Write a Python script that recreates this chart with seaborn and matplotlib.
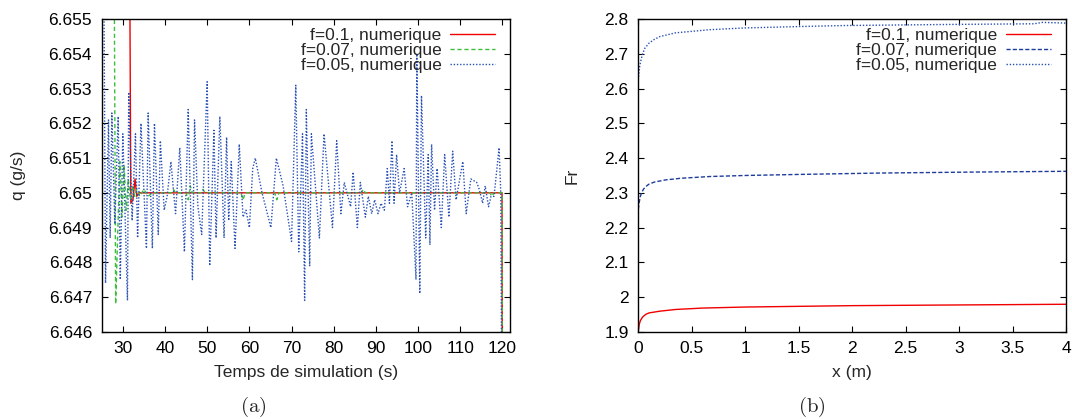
import numpy as np
import matplotlib
matplotlib.use('Agg')
import matplotlib.pyplot as plt
import seaborn as sns

# --- data ---
# (a) debit q (g/s) vs temps de simulation (s)
t_f01 = [31.5, 31.9, 32.4, 32.9, 33.3, 33.8, 119.9, 120.0]
q_f01 = [6.6600, 6.6497, 6.6498, 6.6504, 6.6499, 6.6500, 6.6500, 6.6400]

t_f007 = [27.9, 28.3, 29.3, 29.8, 30.3, 30.8, 31.3, 31.8, 32.3, 32.8, 33.3, 34.0,
          35.0, 36.0, 37.0, 41.5, 42.0, 42.5, 45.0, 45.5, 46.0, 46.5, 48.5, 49.0,
          49.5, 58.0, 58.5, 59.0, 66.0, 66.5, 67.0, 86.5, 87.0, 87.5, 117.0, 117.5,
          118.0, 119.9, 120.0]
q_f007 = [6.6580, 6.6468, 6.6509, 6.6493, 6.6508, 6.6495, 6.6504, 6.6498, 6.6502, 6.6499, 6.6501, 6.6499,
          6.6501, 6.6499, 6.6500, 6.6500, 6.6501, 6.6500, 6.6500, 6.6498, 6.6502, 6.6500, 6.6500, 6.6501,
          6.6500, 6.6500, 6.6498, 6.6500, 6.6500, 6.6498, 6.6500, 6.6500, 6.6501, 6.6500, 6.6500, 6.6499,
          6.6500, 6.6500, 6.6400]

t_f005 = [25.5, 25.9, 26.6, 27.0, 27.4, 28.1, 28.9, 29.4, 30.0, 31.1, 31.4, 32.2,
          33.0, 33.5, 34.3, 35.6, 36.0, 37.0, 37.5, 38.4, 38.9, 39.8, 40.5, 41.4,
          42.5, 43.5, 44.6, 45.5, 46.5, 47.0, 47.8, 48.7, 50.0, 50.6, 51.6, 52.1,
          53.0, 54.0, 54.6, 55.1, 55.7, 56.6, 57.6, 58.5, 59.2, 60.0, 60.8, 61.4,
          63.0, 65.1, 66.4, 68.0, 70.0, 71.0, 71.7, 72.6, 73.1, 73.5, 74.3, 74.7,
          76.6, 77.7, 79.7, 80.7, 81.7, 82.5, 84.0, 84.6, 85.6, 86.3, 87.5, 88.2,
          89.0, 89.7, 90.5, 91.2, 92.0, 92.7, 93.2, 93.8, 94.3, 94.9, 95.6, 96.7,
          97.5, 98.5, 99.5, 99.7, 100.4, 100.8, 101.8, 102.4, 102.8, 103.2, 103.9, 104.5,
          105.5, 106.3, 107.3, 108.2, 109.0, 110.6, 111.4, 112.5, 113.9, 114.5, 115.3, 115.9,
          116.7, 117.3, 118.0, 119.2, 119.6, 120.0]
q_f005 = [6.6562, 6.6474, 6.6521, 6.6487, 6.6523, 6.6491, 6.6522, 6.6475, 6.6517, 6.6469, 6.6529, 6.6492,
          6.6517, 6.6487, 6.6520, 6.6484, 6.6523, 6.6484, 6.6520, 6.6488, 6.6515, 6.6495, 6.6499, 6.6509,
          6.6494, 6.6513, 6.6483, 6.6524, 6.6475, 6.6521, 6.6496, 6.6488, 6.6532, 6.6479, 6.6518, 6.6487,
          6.6522, 6.6487, 6.6516, 6.6492, 6.6509, 6.6484, 6.6514, 6.6493, 6.6495, 6.6490, 6.6507, 6.6510,
          6.6500, 6.6490, 6.6510, 6.6502, 6.6486, 6.6531, 6.6483, 6.6517, 6.6469, 6.6524, 6.6479, 6.6517,
          6.6487, 6.6517, 6.6490, 6.6515, 6.6494, 6.6503, 6.6496, 6.6506, 6.6490, 6.6503, 6.6493, 6.6499,
          6.6494, 6.6498, 6.6494, 6.6497, 6.6495, 6.6507, 6.6497, 6.6515, 6.6497, 6.6511, 6.6500, 6.6507,
          6.6496, 6.6500, 6.6475, 6.6540, 6.6471, 6.6528, 6.6487, 6.6511, 6.6485, 6.6514, 6.6495, 6.6507,
          6.6490, 6.6511, 6.6493, 6.6512, 6.6498, 6.6509, 6.6494, 6.6504, 6.6503, 6.6501, 6.6497, 6.6502,
          6.6496, 6.6499, 6.6499, 6.6513, 6.6500, 6.6400]

# (b) Froude number vs x (m)
x_fr01 = [0.0, 0.01, 0.02, 0.04, 0.07, 0.1, 0.2, 0.35, 0.6, 1.0, 1.5, 2.0, 3.0, 4.0]
fr_f01 = [1.902, 1.922, 1.932, 1.942, 1.950, 1.954, 1.959, 1.964, 1.968, 1.971, 1.973, 1.975, 1.977, 1.979]
x_fr007 = [0.0, 0.01, 0.02, 0.03, 0.05, 0.07, 0.1, 0.15, 0.25, 0.4, 0.67, 1.0, 1.5, 2.26, 3.2, 4.0]
fr_f007 = [2.252, 2.275, 2.290, 2.300, 2.311, 2.318, 2.325, 2.331, 2.337, 2.342, 2.347, 2.350, 2.353,
           2.357, 2.360, 2.362]
x_fr005 = [0.0, 0.006, 0.012, 0.022, 0.038, 0.06, 0.1, 0.15, 0.2, 0.35, 0.67, 0.99, 1.5, 1.94, 2.89,
           3.70, 3.78, 4.0]
fr_f005 = [2.625, 2.645, 2.662, 2.678, 2.698, 2.716, 2.731, 2.742, 2.750, 2.761, 2.770, 2.775, 2.779,
           2.782, 2.785, 2.787, 2.791, 2.789]

labels = ['f=0.1, numerique', 'f=0.07, numerique', 'f=0.05, numerique']

# --- style ---
sns.set_style('ticks')
plt.rcParams['font.family'] = ['Liberation Sans', 'DejaVu Sans']
plt.rcParams['mathtext.fontset'] = 'cm'
FS = 12.5

fig = plt.figure(figsize=(10.72, 4.19), dpi=100)
ax1 = fig.add_axes([0.0949, 0.2084, 0.3809, 0.7456])
ax2 = fig.add_axes([0.5954, 0.2084, 0.3990, 0.7456])

red = '#f00000'
green = '#3cbf3c'
blue = '#2850b4'
blue_dark = '#1e3c9c'

sns.lineplot(x=t_f01, y=q_f01, ax=ax1, color=red, lw=1.0, sort=False,
             estimator=None, label=labels[0])
sns.lineplot(x=t_f007, y=q_f007, ax=ax1, color=green, lw=1.0, sort=False,
             estimator=None, linestyle=(0, (3, 2)), label=labels[1])
sns.lineplot(x=t_f005, y=q_f005, ax=ax1, color=blue, lw=1.0, sort=False,
             estimator=None, linestyle=(0, (1, 1.3)), label=labels[2])

sns.lineplot(x=x_fr01, y=fr_f01, ax=ax2, color=red, lw=1.0, sort=False,
             estimator=None, label=labels[0])
sns.lineplot(x=x_fr007, y=fr_f007, ax=ax2, color=blue_dark, lw=1.0, sort=False,
             estimator=None, linestyle=(0, (3, 1.5)), label=labels[1])
sns.lineplot(x=x_fr005, y=fr_f005, ax=ax2, color=blue, lw=1.0, sort=False,
             estimator=None, linestyle=(0, (1, 1.3)), label=labels[2])

ax1.set_xlim(25.0, 121.8)
ax1.set_ylim(6.646, 6.655)
ax1.set_xticks(np.arange(30, 121, 10))
ax1.set_yticks(np.arange(6.646, 6.6551, 0.001))
ax1.set_yticklabels(['6.646', '6.647', '6.648', '6.649', '6.65',
                     '6.651', '6.652', '6.653', '6.654', '6.655'])
ax1.set_xlabel('Temps de simulation (s)', fontsize=FS, labelpad=6)
ax1.set_ylabel('q (g/s)', fontsize=FS, labelpad=16)

ax2.set_xlim(0, 4)
ax2.set_ylim(1.9, 2.8)
ax2.set_xticks(np.arange(0, 4.01, 0.5))
ax2.set_xticklabels(['0', '0.5', '1', '1.5', '2', '2.5', '3', '3.5', '4'])
ax2.set_yticks(np.arange(1.9, 2.801, 0.1))
ax2.set_yticklabels(['1.9', '2', '2.1', '2.2', '2.3', '2.4', '2.5', '2.6', '2.7', '2.8'])
ax2.set_xlabel('x (m)', fontsize=FS, labelpad=6)
ax2.set_ylabel('Fr', fontsize=FS, labelpad=18)

for ax in (ax1, ax2):
    for s in ax.spines.values():
        s.set_visible(True)
        s.set_linewidth(1.0)
        s.set_color('black')
    ax.tick_params(direction='in', length=4, width=0.8, top=True, right=True,
                   labelsize=FS, pad=7, colors='black')
    ax.legend(loc='upper right', frameon=False, markerfirst=False, fontsize=FS,
              handlelength=2.6, handletextpad=0.5, labelspacing=0.0,
              borderaxespad=0.1, bbox_to_anchor=(0.985, 1.0))

fig.text(253 / 1072, 1 - 407 / 419, r'$\mathrm{(a)}$', fontsize=15, ha='center', va='center')
fig.text(812 / 1072, 1 - 407 / 419, r'$\mathrm{(b)}$', fontsize=15, ha='center', va='center')

fig.savefig('out.png', dpi=100)
